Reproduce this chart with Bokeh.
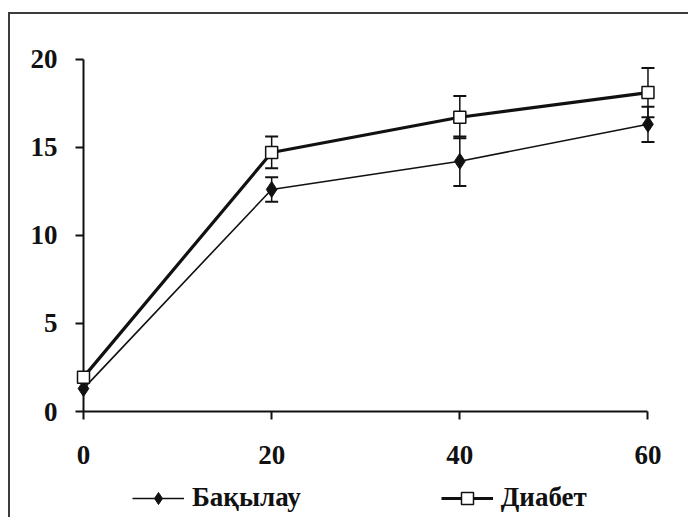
from bokeh.plotting import figure
from bokeh.layouts import column
from bokeh.models import (ColumnDataSource, Range1d, Whisker, TeeHead, Legend,
                          LegendItem, FixedTicker)
from bokeh.embed import file_html
from bokeh.resources import INLINE

# ---- data ----
minutes = [0, 20, 40, 60]
control_mean = [1.3, 12.6, 14.2, 16.3]
control_err = [0.0, 0.7, 1.4, 1.0]
diabetes_mean = [1.95, 14.7, 16.7, 18.1]
diabetes_err = [0.0, 0.9, 1.2, 1.4]
series_names = ["Бақылау", "Диабет"]
x_ticks = [0, 20, 40, 60]
y_ticks = [0, 5, 10, 15, 20]

FONT = "Liberation Serif"
INK = "#111111"

p = figure(width=678, height=463, output_backend="svg", toolbar_location=None,
           x_range=Range1d(0, 60.8), y_range=Range1d(0, 20.6),
           min_border_left=73, min_border_right=33, min_border_top=34,
           min_border_bottom=66)
p.outline_line_color = None
p.xgrid.visible = False
p.ygrid.visible = False
p.background_fill_color = "white"
p.border_fill_color = "white"

for ax in (p.xaxis[0], p.yaxis[0]):
    ax.axis_line_color = INK
    ax.axis_line_width = 2
    ax.major_tick_line_color = INK
    ax.major_tick_line_width = 2
    ax.major_tick_in = 0
    ax.major_tick_out = 8
    ax.minor_tick_line_color = None
    ax.major_label_text_font = FONT
    ax.major_label_text_font_style = "bold"
    ax.major_label_text_font_size = "27px"
    ax.major_label_text_color = INK

p.xaxis[0].ticker = FixedTicker(ticks=x_ticks)
p.yaxis[0].ticker = FixedTicker(ticks=y_ticks)
p.xaxis[0].bounds = (0, 60)
p.yaxis[0].bounds = (0, 20)
p.xaxis[0].major_label_standoff = 26
p.yaxis[0].major_label_standoff = 18

ctrl = ColumnDataSource(dict(x=minutes, y=control_mean))
diab = ColumnDataSource(dict(x=minutes, y=diabetes_mean))
ctrl_err = ColumnDataSource(dict(x=[m for m, e in zip(minutes, control_err) if e > 0],
                                 lo=[m - e for m, e in zip(control_mean, control_err) if e > 0],
                                 hi=[m + e for m, e in zip(control_mean, control_err) if e > 0]))
diab_err = ColumnDataSource(dict(x=[m for m, e in zip(minutes, diabetes_err) if e > 0],
                                 lo=[m - e for m, e in zip(diabetes_mean, diabetes_err) if e > 0],
                                 hi=[m + e for m, e in zip(diabetes_mean, diabetes_err) if e > 0]))

for src in (diab_err, ctrl_err):
    w = Whisker(source=src, base="x", upper="hi", lower="lo", line_color=INK, line_width=1.5,
                upper_head=TeeHead(size=13, line_color=INK, line_width=2),
                lower_head=TeeHead(size=13, line_color=INK, line_width=2))
    p.add_layout(w)

LINE_W = {"ctrl": 1.6, "diab": 3.2}
p.line("x", "y", source=ctrl, line_color=INK, line_width=LINE_W["ctrl"], level="overlay")
p.line("x", "y", source=diab, line_color=INK, line_width=LINE_W["diab"], level="overlay")
p.scatter("x", "y", source=ctrl, marker="diamond", size=16, fill_color=INK, line_color=INK,
          level="overlay")
p.scatter("x", "y", source=diab, marker="square", size=12, fill_color="white",
          line_color=INK, line_width=1.5, level="overlay")

# ---- legend strip (separate figure below the chart; its frame aligns with the chart's) ----
lp = figure(width=678, height=40, output_backend="svg", toolbar_location=None,
            x_range=Range1d(-3, -2), y_range=Range1d(-3, -2),
            x_axis_type=None, y_axis_type=None,
            min_border_left=0, min_border_right=0, min_border_top=0, min_border_bottom=0)
lp.outline_line_color = None
lp.xgrid.visible = False
lp.ygrid.visible = False
lp.border_fill_color = "white"

# legend sample renderers (their single points lie outside the strip's visible range)
src1 = ColumnDataSource(dict(x=minutes[:1], y=control_mean[:1]))
src2 = ColumnDataSource(dict(x=minutes[:1], y=diabetes_mean[:1]))
lg_l1 = lp.line("x", "y", source=src1, line_color=INK, line_width=LINE_W["ctrl"])
lg_m1 = lp.scatter("x", "y", source=src1, marker="diamond", size=15,
                   fill_color=INK, line_color=INK)
lg_l2 = lp.line("x", "y", source=src2, line_color=INK, line_width=LINE_W["diab"])
lg_m2 = lp.scatter("x", "y", source=src2, marker="square", size=12,
                   fill_color="white", line_color=INK, line_width=1.5)

legend = Legend(items=[LegendItem(label=series_names[0], renderers=[lg_l1, lg_m1]),
                       LegendItem(label=series_names[1], renderers=[lg_l2, lg_m2])],
                orientation="horizontal", location=(49, 4),
                label_text_font=FONT, label_text_font_style="bold",
                label_text_font_size="27px", label_text_color=INK,
                glyph_width=52, glyph_height=30, label_standoff=8, spacing=140,
                padding=0, margin=0, border_line_color=None,
                background_fill_alpha=0)
lp.add_layout(legend, "center")

layout = column(p, lp, spacing=0,
                styles={"border-left": "2px solid #3c3c3c", "border-top": "2px solid #3c3c3c",
                        "margin-left": "8px", "margin-top": "12px"})

open("out.html", "w").write(file_html(layout, INLINE))
